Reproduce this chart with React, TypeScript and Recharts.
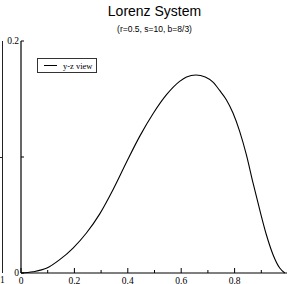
import { LineChart, Line, XAxis, YAxis, Legend } from "recharts";

// y-z projection of the trajectory
const yVals = [
  0.0, 0.045, 0.095, 0.145, 0.195, 0.245, 0.295, 0.345, 0.395, 0.445, 0.495,
  0.545, 0.594, 0.62, 0.655, 0.69, 0.719, 0.744, 0.769, 0.794, 0.819, 0.844,
  0.869, 0.894, 0.919, 0.944, 0.969, 0.988,
];
const zVals = [
  0.0, 0.0011, 0.004, 0.0115, 0.0215, 0.0345, 0.051, 0.072, 0.0955, 0.118,
  0.1375, 0.1537, 0.1652, 0.169, 0.1707, 0.169, 0.1645, 0.1574, 0.1494,
  0.1379, 0.1221, 0.102, 0.0776, 0.0546, 0.033, 0.0158, 0.0043, 0.0,
];

const xTicks = [0, 0.1, 0.2, 0.3, 0.4, 0.5, 0.6, 0.7, 0.8, 0.9, 1.0];
const xLabels = ["0", "0.2", "0.4", "0.6", "0.8"];
const yTicks = [0, 0.1, 0.2];
const yLabels = ["0", "0.2"];

const data = yVals.map((y, i) => ({ y, z: zVals[i] }));

const serif = "'Liberation Serif', 'Times New Roman', serif";
const sans = "'Liberation Sans', Arial, sans-serif";

const fmt = (v: number) => (Math.round(v * 10) / 10).toString();
const isMajor = (v: number) => Math.round(v * 10) % 2 === 0;

function BottomTick(props: any) {
  const { x, y, payload } = props;
  const v = payload.value;
  const len = isMajor(v) ? 5 : 3;
  const label = fmt(v);
  return (
    <g>
      <line x1={x} y1={y} x2={x} y2={y - len} stroke="#000" strokeWidth={1} />
      {xLabels.includes(label) && (
        <text x={x} y={y + 10.5} textAnchor="middle" fontFamily={serif} fontSize={9.5} fill="#000">
          {label}
        </text>
      )}
    </g>
  );
}

function TopTick(props: any) {
  const { x, y, payload } = props;
  const len = isMajor(payload.value) ? 5 : 3;
  return <line x1={x} y1={y} x2={x} y2={y + len} stroke="#000" strokeWidth={1} />;
}

function LeftTick(props: any) {
  const { x, y, payload } = props;
  const label = fmt(payload.value);
  return (
    <g>
      <line x1={x} y1={y} x2={x + 3} y2={y} stroke="#000" strokeWidth={1} />
      {yLabels.includes(label) && (
        <text x={x - 2} y={y} dy="0.3em" textAnchor="end" fontFamily={serif} fontSize={9.5} fill="#000">
          {label}
        </text>
      )}
    </g>
  );
}

function RightTick(props: any) {
  const { x, y } = props;
  return <line x1={x} y1={y} x2={x - 3} y2={y} stroke="#000" strokeWidth={1} />;
}

function LegendBox() {
  return (
    <div
      style={{
        width: 58,
        height: 13,
        border: "1px solid #333",
        background: "#fff",
        display: "flex",
        alignItems: "center",
        boxSizing: "content-box",
      }}
    >
      <div style={{ width: 13, height: 1, background: "#000", marginLeft: 6, marginRight: 6 }} />
      <span style={{ fontFamily: serif, fontSize: 8.5, color: "#000", whiteSpace: "nowrap" }}>y-z view</span>
    </div>
  );
}

export default function App() {
  return (
    <div
      style={{
        position: "absolute",
        left: 0,
        top: 0,
        width: 287,
        height: 284,
        overflow: "hidden",
        background: "#fff",
      }}
    >
      {/* edge of the neighbouring panel */}
      <div style={{ position: "absolute", left: 1.5, top: 41, width: 1.5, height: 232, background: "#222" }} />
      <div style={{ position: "absolute", left: 0, top: 156.5, width: 2, height: 1, background: "#222" }} />
      <div
        style={{ position: "absolute", left: 0, top: 275, fontFamily: serif, fontSize: 9.5, lineHeight: "10px" }}
      >
        1
      </div>

      <div
        style={{
          position: "absolute",
          left: 21,
          width: 267,
          top: 3,
          textAlign: "center",
          fontFamily: sans,
          fontSize: 14,
          lineHeight: "16px",
        }}
      >
        Lorenz System
      </div>
      <div
        style={{
          position: "absolute",
          left: 21,
          width: 267,
          top: 24,
          textAlign: "center",
          fontFamily: sans,
          fontSize: 8.5,
          lineHeight: "10px",
        }}
      >
        (r=0.5, s=10, b=8/3)
      </div>

      <LineChart width={290} height={284} data={data} margin={{ top: 41, right: 2, bottom: 0, left: 0 }}>
        <XAxis
          xAxisId="b"
          dataKey="y"
          type="number"
          domain={[0, 1]}
          ticks={xTicks}
          interval={0}
          height={11}
          tickSize={0}
          tickMargin={0}
          tickLine={false}
          axisLine={{ stroke: "#000", strokeWidth: 1.2 }}
          tick={BottomTick}
        />
        <XAxis
          xAxisId="t"
          orientation="top"
          dataKey="y"
          type="number"
          domain={[0, 1]}
          ticks={xTicks}
          interval={0}
          height={0}
          tickSize={0}
          tickMargin={0}
          tickLine={false}
          axisLine={{ stroke: "#000", strokeWidth: 1.2 }}
          tick={TopTick}
        />
        <YAxis
          yAxisId="l"
          type="number"
          domain={[0, 0.2]}
          ticks={yTicks}
          interval={0}
          width={21}
          tickSize={0}
          tickMargin={0}
          tickLine={false}
          axisLine={{ stroke: "#000", strokeWidth: 1.2 }}
          tick={LeftTick}
        />
        <YAxis
          yAxisId="r"
          orientation="right"
          type="number"
          domain={[0, 0.2]}
          ticks={yTicks}
          interval={0}
          width={0}
          tickSize={0}
          tickMargin={0}
          tickLine={false}
          axisLine={{ stroke: "#000", strokeWidth: 1.2 }}
          tick={RightTick}
        />
        <Legend
          layout="horizontal"
          verticalAlign="middle"
          align="center"
          content={() => <LegendBox />}
          wrapperStyle={{ left: 37, top: 58, width: "auto" }}
        />
        <Line
          xAxisId="b"
          yAxisId="l"
          dataKey="z"
          name="y-z view"
          type="monotone"
          stroke="#000"
          strokeWidth={1.1}
          dot={false}
          isAnimationActive={false}
        />
      </LineChart>
    </div>
  );
}
